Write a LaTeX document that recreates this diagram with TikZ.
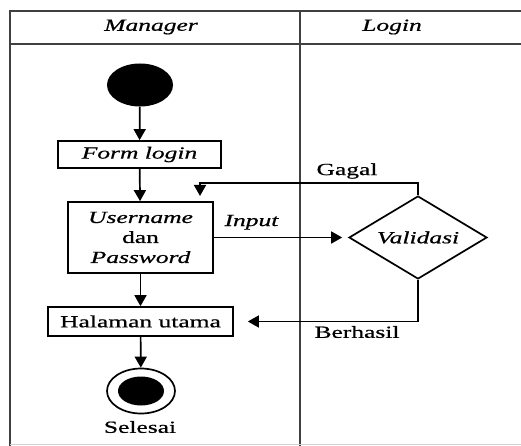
\documentclass[tikz,border=0pt]{standalone}
\usepackage{fontspec}
\setmainfont{Liberation Serif}[FakeStretch=1.5,FakeBold=0.7]
\usetikzlibrary{shapes.geometric,arrows.meta}
\begin{document}
\begin{tikzpicture}[x=1pt,y=-1pt,
  font=\fontsize{17}{20}\selectfont,
  lane/.style={line width=2pt,draw=black!75},
  act/.style={draw,line width=1.7pt,inner sep=0pt,align=center},
  flow/.style={line width=1.7pt,-{Triangle[length=11pt,width=12pt]}},
  lbl/.style={inner sep=0pt,align=center}]
\useasboundingbox (0,0) rectangle (521,446);

% swimlane frame
\draw[lane] (10,446) -- (10,11) -- (521,11);
\draw[lane] (10,44) -- (521,44);
\draw[lane] (300,11) -- (300,446);
\draw[gray!35,line width=0.8pt] (10,444) -- (521,444);
\node[lbl] (hmgr) at (151,27) {\itshape Manager};
\node[lbl] (hlog) at (392,27) {\itshape Login};

% activities
\node[ellipse,fill=black,minimum width=66pt,minimum height=43pt,inner sep=0pt] (start) at (140,85) {};
\node[act,minimum width=163pt,minimum height=27pt] (form) at (139.5,154.5) {\itshape Form login};
\node[act,minimum width=145pt,minimum height=71pt] (user) at (140.5,237.5) {\itshape Username\\dan\\\itshape Password};
\node[act,minimum width=185pt,minimum height=29pt] (home) at (140.5,321.5) {Halaman utama};
\node[diamond,draw,line width=1.7pt,minimum width=138pt,minimum height=83pt,inner sep=0pt] (val) at (418,237.5) {};
\node[lbl] (valtxt) at (val.center) {\itshape Validasi};
\node[ellipse,draw,line width=1.7pt,minimum width=68pt,minimum height=45pt,inner sep=0pt] (stop) at (141,391) {};
\node[ellipse,fill=black,minimum width=46pt,minimum height=29pt,inner sep=0pt] (stopin) at (stop.center) {};
\node[lbl] (stoptxt) at (140,427) {Selesai};

% flows
\draw[flow] (start) -- (form);
\draw[flow] (form) -- (user);
\draw[flow] (user) -- (home);
\draw[flow] (home) -- (stop);
\draw[flow,shorten >=6pt] (user.east) -- node[lbl,above=7pt,pos=0.28] (inp) {\itshape Input} (val.west);
\coordinate (retry) at (200,196);
\draw[flow] (val.north) -- (418,183) -| (retry);
\node[lbl] (gagal) at (347,171) {Gagal};
\draw[flow,shorten >=14pt] (val.south) |- (home.east);
\node[lbl] (ok) at (357,332) {Berhasil};
\end{tikzpicture}
\end{document}
